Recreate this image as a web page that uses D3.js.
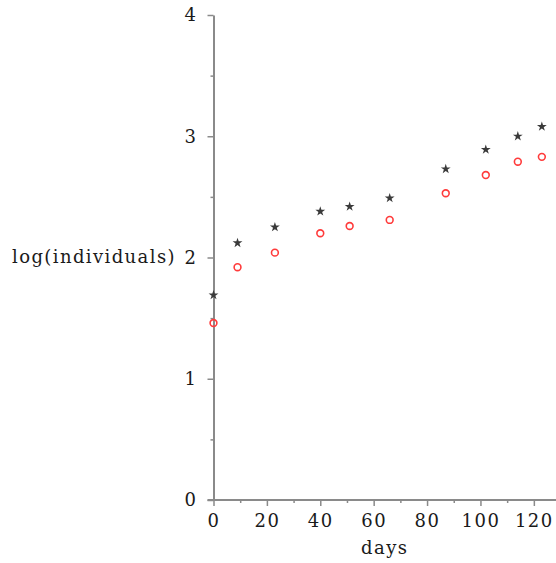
<!DOCTYPE html>
<html>
<head>
<meta charset="utf-8">
<script src="https://cdn.jsdelivr.net/npm/d3@7"></script>
<style>
  html, body { margin: 0; padding: 0; background: #fff; }
  svg text { font-family: "DejaVu Serif", serif; font-size: 18px; fill: #1a1a1a; letter-spacing: 1.5px; }
</style>
</head>
<body>
<svg id="chart" width="556" height="563"></svg>
<script>
'use strict';

// data
var arrayDays = [0, 9, 23, 40, 51, 66, 87, 102, 114, 123];
var arrayStars = [1.69, 2.12, 2.25, 2.38, 2.42, 2.49, 2.73, 2.89, 3.00, 3.08];
var arrayCircles = [1.46, 1.92, 2.04, 2.20, 2.26, 2.31, 2.53, 2.68, 2.79, 2.83];
var arrayXTicks = [0, 10, 20, 30, 40, 50, 60, 70, 80, 90, 100, 110, 120];
var arrayYTicks = [0, 0.5, 1, 1.5, 2, 2.5, 3, 3.5, 4];
var strXLabel = 'days';
var strYLabel = 'log(individuals)';

var svg = d3.select('#chart');

var nLeft = 213.5, nRight = 556, nTop = 15, nBottom = 500;
var strAxisColor = '#8a8a8a';

var xScale = d3.scaleLinear()
	.domain([0, 128.3])
	.range([nLeft, nRight]);

var yScale = d3.scaleLinear()
	.domain([0, 4])
	.range([nBottom, nTop]);

function IsMajor(v, nStep)
{
	return Math.abs(v / nStep - Math.round(v / nStep)) < 1e-9;
}

// x axis
var xAxis = svg.append('g')
	.attr('transform', 'translate(0,' + nBottom + ')')
	.call(d3.axisBottom(xScale)
		.tickValues(arrayXTicks)
		.tickSizeOuter(0)
		.tickPadding(8)
		.tickFormat(function(d) { return IsMajor(d, 20) ? d : ''; }));

xAxis.select('.domain').attr('stroke', strAxisColor).attr('stroke-width', 2)
	.attr('d', 'M' + (nLeft - 6) + ',0H' + nRight);
xAxis.selectAll('.tick line')
	.attr('stroke', strAxisColor)
	.attr('stroke-width', 1.5)
	.attr('y2', function(d) { return IsMajor(d, 20) ? 6 : 3; });
xAxis.selectAll('.tick text').attr('font-size', null).attr('font-family', null).attr('fill', null);

// y axis
var yAxis = svg.append('g')
	.attr('transform', 'translate(' + nLeft + ',0)')
	.call(d3.axisLeft(yScale)
		.tickValues(arrayYTicks)
		.tickSizeOuter(0)
		.tickPadding(10)
		.tickFormat(function(d) { return IsMajor(d, 1) ? d : ''; }));

yAxis.select('.domain').attr('stroke', strAxisColor).attr('stroke-width', 2);
yAxis.selectAll('.tick line')
	.attr('stroke', strAxisColor)
	.attr('stroke-width', 1.5)
	.attr('x2', function(d) { return IsMajor(d, 1) ? -6 : -3; });
yAxis.selectAll('.tick text').attr('font-size', null).attr('font-family', null).attr('fill', null);

// axis titles
svg.append('text')
	.attr('x', (nLeft + nRight) / 2)
	.attr('y', 554)
	.attr('text-anchor', 'middle')
	.text(strXLabel);

svg.append('text')
	.attr('x', 12)
	.attr('y', 263)
	.style('letter-spacing', '1.4px')
	.text(strYLabel);

// star series
var symStar = d3.symbol().type(d3.symbolStar).size(30);
svg.append('g').selectAll('path')
	.data(arrayDays)
	.enter()
	.append('path')
	.attr('d', symStar)
	.attr('fill', '#3a3a3a')
	.attr('transform', function(d, i) {
		return 'translate(' + xScale(d) + ',' + yScale(arrayStars[i]) + ')';
	});

// circle series
svg.append('g').selectAll('circle')
	.data(arrayDays)
	.enter()
	.append('circle')
	.attr('cx', function(d) { return xScale(d); })
	.attr('cy', function(d, i) { return yScale(arrayCircles[i]); })
	.attr('r', 3.4)
	.attr('fill', 'none')
	.attr('stroke', '#ff3b3b')
	.attr('stroke-width', 1.6);
</script>
</body>
</html>
